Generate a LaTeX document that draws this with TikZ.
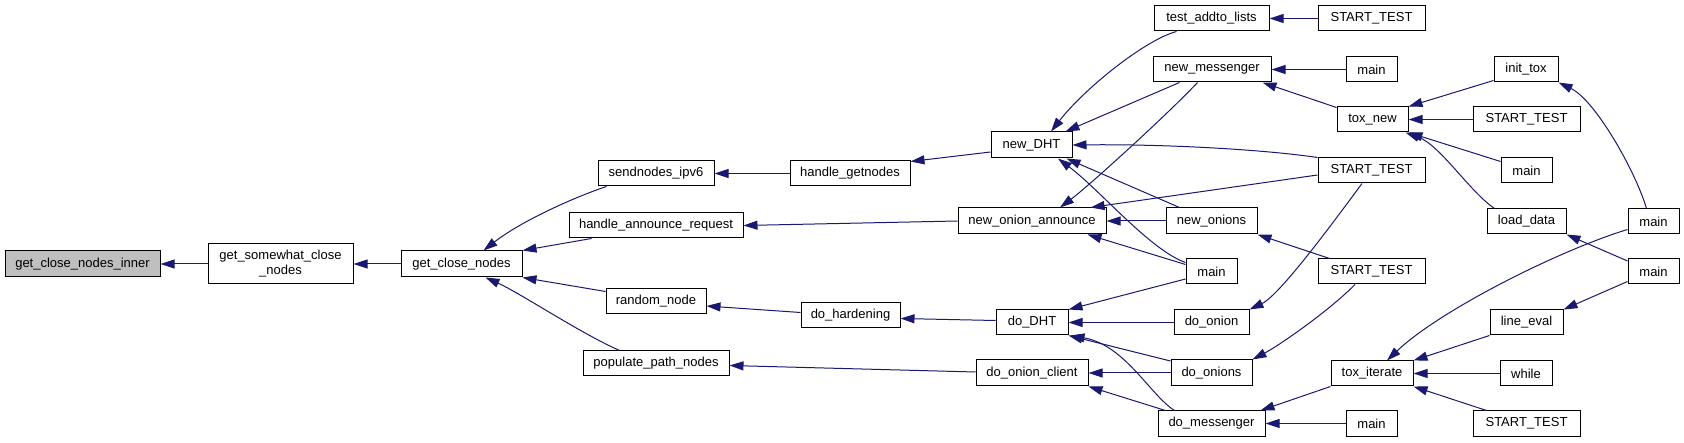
\documentclass[tikz,border=0pt]{standalone}
\usepackage{fontspec}
\setmainfont{Liberation Sans}
\usepackage{xcolor}
\definecolor{cEdge}{HTML}{191970}
\definecolor{cRoot}{HTML}{BFBFBF}
\definecolor{cFrame}{HTML}{000000}
\usepackage{tikz}
\usetikzlibrary{arrows.meta}
\tikzset{
  fn-box/.style={draw=cFrame,line width=1pt,fill=white,rectangle,inner sep=0pt,
    minimum height=25pt,align=center,font=\fontsize{13}{15}\selectfont},
  fn-root/.style={fill=cRoot,minimum height=26pt},
  % caller -> callee, tip sits on the callee
  call/.style={-{Triangle[length=14pt,width=9pt]},line width=1pt,draw=cEdge},
}

\begin{document}
\begin{tikzpicture}[x=1pt,y=-1pt]
  \useasboundingbox (0,0) rectangle (1684,443);

  % columns, left to right
  \node[fn-box,fn-root,minimum width=155pt] (gcnInner) at (82.5,264) {get\_close\_nodes\_inner};
  \node[fn-box,minimum width=145pt,minimum height=40pt] (gscn) at (280.5,264) {get\_somewhat\_close\\\_nodes};
  \node[fn-box,minimum width=121pt,minimum height=26pt] (gcn) at (461.5,264) {get\_close\_nodes};

  \node[fn-box,minimum width=116pt] (sendIpv6) at (656,173.5) {sendnodes\_ipv6};
  \node[fn-box,minimum width=174pt] (handleAnn) at (656,225.5) {handle\_announce\_request};
  \node[fn-box,minimum width=100pt] (randNode) at (656,301.5) {random\_node};
  \node[fn-box,minimum width=146pt] (popPath) at (656,363.5) {populate\_path\_nodes};

  \node[fn-box,minimum width=120pt] (handleGet) at (850,173.5) {handle\_getnodes};
  \node[fn-box,minimum width=99pt] (doHard) at (850.5,315.5) {do\_hardening};

  \node[fn-box,minimum width=81pt,minimum height=26pt] (newDHT) at (1031.5,145) {new\_DHT};
  \node[fn-box,minimum width=148pt,minimum height=26pt] (newOA) at (1032,221) {new\_onion\_announce};
  \node[fn-box,minimum width=72pt] (doDHT) at (1032,322.5) {do\_DHT};
  \node[fn-box,minimum width=112pt,minimum height=26pt] (doOC) at (1032,373) {do\_onion\_client};

  \node[fn-box,minimum width=115pt] (testAdd) at (1211.5,18.5) {test\_addto\_lists};
  \node[fn-box,minimum width=118pt] (newMsgr) at (1212,69.5) {new\_messenger};
  \node[fn-box,minimum width=91pt,minimum height=26pt] (newOnions) at (1211.5,221) {new\_onions};
  \node[fn-box,minimum width=51pt] (mainA) at (1211.5,271.5) {main};
  \node[fn-box,minimum width=75pt] (doOnion) at (1211.5,322.5) {do\_onion};
  \node[fn-box,minimum width=81pt,minimum height=26pt] (doOnions) at (1211.5,373) {do\_onions};
  \node[fn-box,minimum width=107pt] (doMsgr) at (1211.5,423.5) {do\_messenger};

  \node[fn-box,minimum width=107pt] (stA) at (1371.5,18.5) {START\_TEST};
  \node[fn-box,minimum width=51pt] (mainB) at (1371.5,69.5) {main};
  \node[fn-box,minimum width=71pt] (toxNew) at (1372.5,119.5) {tox\_new};
  \node[fn-box,minimum width=107pt] (stB) at (1371.5,170.5) {START\_TEST};
  \node[fn-box,minimum width=107pt] (stC) at (1371.5,271.5) {START\_TEST};
  \node[fn-box,minimum width=82pt] (toxIter) at (1372,373.5) {tox\_iterate};
  \node[fn-box,minimum width=51pt] (mainC) at (1371.5,423.5) {main};

  \node[fn-box,minimum width=64pt] (initTox) at (1526,69.5) {init\_tox};
  \node[fn-box,minimum width=107pt] (stD) at (1526.5,119.5) {START\_TEST};
  \node[fn-box,minimum width=51pt] (mainD) at (1526.5,170.5) {main};
  \node[fn-box,minimum width=79pt] (loadData) at (1526.5,221.5) {load\_data};
  \node[fn-box,minimum width=73pt] (lineEval) at (1526.5,322.5) {line\_eval};
  \node[fn-box,minimum width=52pt] (whileN) at (1526,373.5) {while};
  \node[fn-box,minimum width=107pt] (stE) at (1526.5,423.5) {START\_TEST};

  \node[fn-box,minimum width=51pt] (mainE) at (1653.5,221.5) {main};
  \node[fn-box,minimum width=51pt] (mainF) at (1653.5,271.5) {main};

  % calls
  \draw[call] (gscn.west) -- (gcnInner.east);
  \draw[call] (gcn.west) -- (gscn.east);
  \draw[call] ([xshift=9pt]sendIpv6.south west) .. controls (572,198) and (520,222) .. ([xshift=22pt]gcn.north);
  \draw[call] ([xshift=23pt]handleAnn.south west) -- (gcn.north east);
  \draw[call] ([yshift=-3pt]randNode.north west) -- (gcn.south east);
  \draw[call] ([xshift=37pt]popPath.north west) .. controls (580,333) and (520,293) .. ([xshift=24pt]gcn.south);
  \draw[call] (handleGet.west) -- (sendIpv6.east);
  \draw[call] ([yshift=-7pt]newDHT.west) -- ([yshift=-1pt]handleGet.north east);
  \draw[call] (newOA.west) -- (handleAnn.east);
  \draw[call] ([yshift=3pt]doHard.west) -- ([yshift=-4.5pt]randNode.east);
  \draw[call] ([yshift=2pt]doDHT.west) -- ([yshift=-3pt]doHard.east);
  \draw[call] ([yshift=1pt]doOC.west) -- ([yshift=-2pt]popPath.east);

  \draw[call] ([xshift=23pt]testAdd.south west) .. controls (1145,40) and (1085,88) .. ([xshift=19.5pt]newDHT.north);
  \draw[call] ([xshift=27pt]newMsgr.south west) -- ([xshift=-7pt]newDHT.north east);
  \draw[call] (stB.north west) .. controls (1260,149) and (1160,144) .. (newDHT.east);
  \draw[call] ([xshift=14pt]newOnions.north west) -- ([xshift=-6pt]newDHT.south east);
  \draw[call] ([yshift=-4pt]mainA.north west) .. controls (1150,250) and (1100,190) .. ([xshift=26.5pt]newDHT.south);
  \draw[call] ([xshift=45pt]newMsgr.south west) .. controls (1170,112) and (1090,185) .. ([xshift=28pt]newOA.north);
  \draw[call] ([yshift=-4.5pt]stB.west) -- ([xshift=-16pt]newOA.north east);
  \draw[call] (newOnions.west) -- (newOA.east);
  \draw[call] ([yshift=-6pt]mainA.north west) -- ([xshift=-19pt]newOA.south east);
  \draw[call] ([yshift=-7.5pt]mainA.west) -- (doDHT.north east);
  \draw[call] (doOnion.west) -- (doDHT.east);
  \draw[call] ([yshift=-1.5pt]doOnions.north west) -- (doDHT.south east);
  \draw[call] ([xshift=17pt]doMsgr.north west) .. controls (1150,395) and (1125,345) .. ([xshift=2pt]doDHT.south east);
  \draw[call] (doOnions.west) -- (doOC.east);
  \draw[call] ([xshift=8pt]doMsgr.north west) -- (doOC.south east);

  \draw[call] (stA.west) -- (testAdd.east);
  \draw[call] (mainB.west) -- (newMsgr.east);
  \draw[call] ([yshift=-1pt]toxNew.north west) -- ([xshift=-9pt]newMsgr.south east);
  \draw[call] ([xshift=12pt]stC.north west) -- (newOnions.south east);
  \draw[call] ([xshift=-9.5pt]stB.south) .. controls (1335,220) and (1280,295) .. (doOnion.north east);
  \draw[call] ([xshift=-16.5pt]stC.south) .. controls (1330,310) and (1280,345) .. (doOnions.north east);
  \draw[call] (toxIter.south west) -- ([xshift=-5pt]doMsgr.north east);
  \draw[call] (mainC.west) -- (doMsgr.east);

  \draw[call] ([yshift=2pt]initTox.south west) -- (toxNew.north east);
  \draw[call] (stD.west) -- (toxNew.east);
  \draw[call] ([yshift=-4pt]mainD.north west) -- (toxNew.south east);
  \draw[call] ([xshift=8pt]loadData.north west) .. controls (1470,192) and (1440,145) .. ([xshift=-3pt]toxNew.south east);
  \draw[call] ([xshift=-7pt]mainE.north) .. controls (1635,170) and (1595,100) .. (initTox.south east);
  \draw[call] ([yshift=-8pt]mainE.west) .. controls (1560,250) and (1440,310) .. ([xshift=15pt]toxIter.north);
  \draw[call] ([yshift=-2.5pt]mainF.north west) -- (loadData.south east);
  \draw[call] ([yshift=-10pt]mainF.west) -- (lineEval.north east);
  \draw[call] (lineEval.south west) -- (toxIter.north east);
  \draw[call] (whileN.west) -- (toxIter.east);
  \draw[call] ([xshift=14pt]stE.north west) -- (toxIter.south east);
\end{tikzpicture}
\end{document}
